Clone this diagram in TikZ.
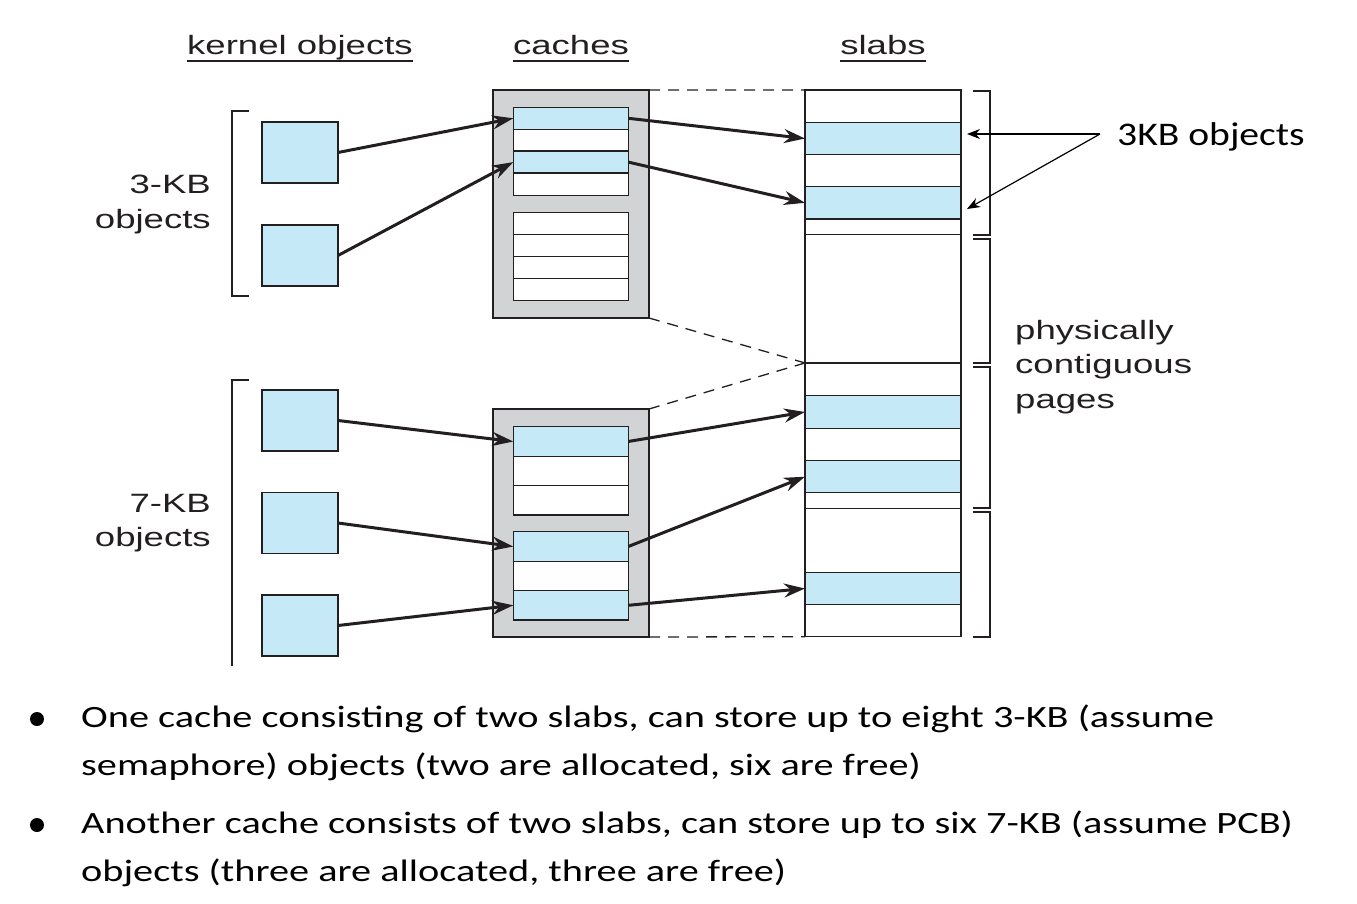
\documentclass[tikz,border=0pt]{standalone}
\usepackage{fontspec}
\setmainfont{Carlito}
\newfontfamily\hv[FakeStretch=1.38]{Liberation Sans}
\newfontfamily\cb[FakeStretch=1.3]{Carlito}
\newfontfamily\cbb[FakeStretch=1.2]{Carlito}
\usetikzlibrary{arrows.meta}
\definecolor{objblue}{HTML}{C6E9F8}
\definecolor{cachegray}{HTML}{D1D3D4}
\definecolor{ln}{HTML}{231F20}
\begin{document}
\begin{tikzpicture}[x=1pt,y=-1pt,
  obj/.style={draw=ln, line width=1.3pt, fill=objblue, minimum width=76pt, minimum height=61pt, inner sep=0pt, outer sep=0pt},
  cell/.style={draw=ln, line width=1.2pt, fill=white, minimum width=115pt, inner sep=0pt, outer sep=0pt},
  bcell/.style={cell, fill=objblue},
  scell/.style={draw=ln, line width=1.2pt, fill=white, minimum width=156pt, inner sep=0pt, outer sep=0pt},
  sbcell/.style={scell, fill=objblue},
  cachebox/.style={draw=ln, line width=1.6pt, fill=cachegray, minimum width=156pt, minimum height=228pt, inner sep=0pt, outer sep=0pt},
  arr/.style={-{Stealth[length=21pt,width=14pt]}, line width=3pt, draw=ln},
  thinarr/.style={-{Stealth[length=13pt,width=10pt]}, line width=1.2pt, draw=black},
  lbl/.style={font=\hv\fontsize{26.5}{34.5}\selectfont, text=ln, inner sep=0pt},
  uline/.style={line width=1.3pt, draw=ln},
  brk/.style={line width=1.2pt, draw=ln},
  dline/.style={line width=1.3pt, draw=ln, dash pattern=on 11pt off 8pt},
  btxt/.style={font=\cb\fontsize{31}{48}\selectfont, anchor=base west, inner sep=0pt},
  bdot/.style={circle, fill=black, inner sep=0pt, minimum size=14pt}
]
\useasboundingbox (0,0) rectangle (1357,904);

% headers
\node[lbl, anchor=base] (hk) at (300,55) {kernel objects};
\node[lbl, anchor=base] (hc) at (571,55) {caches};
\node[lbl, anchor=base] (hs) at (883,55) {slabs};
\draw[uline] ([yshift=-6pt]hk.base west) -- ([yshift=-6pt]hk.base east);
\draw[uline] ([yshift=-6pt]hc.base west) -- ([yshift=-6pt]hc.base east);
\draw[uline] ([yshift=-6pt]hs.base west) -- ([yshift=-6pt]hs.base east);

% kernel objects
\node[obj] (o1) at (300,152.5) {};
\node[obj] (o2) at (300,255.5) {};
\node[obj] (o3) at (300,420.5) {};
\node[obj] (o4) at (300,523) {};
\node[obj] (o5) at (300,625.5) {};

% side labels
\node[lbl, anchor=base east] (l3a) at (211,194) {3-KB};
\node[lbl, anchor=base east] (l3b) at (211,228.5) {objects};
\node[lbl, anchor=base east] (l7a) at (211,512) {7-KB};
\node[lbl, anchor=base east] (l7b) at (211,546.5) {objects};

% left brackets
\draw[brk] (249,111) -- (232,111) -- (232,296) -- (249,296);
\draw[brk] (249,380) -- (232,380) -- (232,666);

% caches
\node[cachebox] (cache1) at (571,204) {};
\node[cachebox] (cache2) at (571,523) {};

\node[bcell, minimum height=22pt] (c1a) at (570.8,118.3) {};
\node[cell,  minimum height=22pt] (c1b) at (570.8,140.2) {};
\node[bcell, minimum height=22pt] (c1c) at (570.8,162.1) {};
\node[cell,  minimum height=22pt] (c1d) at (570.8,184.2) {};
\node[cell,  minimum height=22pt] (c1e) at (570.8,223.3) {};
\node[cell,  minimum height=22pt] (c1f) at (570.8,245.3) {};
\node[cell,  minimum height=22pt] (c1g) at (570.8,267.3) {};
\node[cell,  minimum height=22pt] (c1h) at (570.8,289.5) {};

\node[bcell, minimum height=29.4pt] (c2a) at (570.8,441.5) {};
\node[cell,  minimum height=29.4pt] (c2b) at (570.8,470.8) {};
\node[cell,  minimum height=29.4pt] (c2c) at (570.8,500.3) {};
\node[bcell, minimum height=29.4pt] (c2d) at (570.8,546.5) {};
\node[cell,  minimum height=29.4pt] (c2e) at (570.8,576.0) {};
\node[bcell, minimum height=29.4pt] (c2f) at (570.8,605.3) {};

% slabs column
\node[scell,  minimum height=32.3pt] (s1) at (883,106.2) {};
\node[sbcell, minimum height=32.4pt] (s2) at (883,138.5) {};
\node[scell,  minimum height=32pt]   (s3) at (883,170.7) {};
\node[sbcell, minimum height=32.3pt] (s4) at (883,202.8) {};
\node[scell,  minimum height=15.7pt] (s5) at (883,226.8) {};
\node[scell,  minimum height=128.3pt] (s6) at (883,298.8) {};
\node[scell,  minimum height=32.7pt] (s7) at (883,379.3) {};
\node[sbcell, minimum height=32.6pt] (s8) at (883,412) {};
\node[scell,  minimum height=32.4pt] (s9) at (883,444.5) {};
\node[sbcell, minimum height=32pt]   (s10) at (883,476.7) {};
\node[scell,  minimum height=15.6pt] (s11) at (883,500.5) {};
\node[scell,  minimum height=64.4pt] (s12) at (883,540.5) {};
\node[sbcell, minimum height=31.6pt] (s13) at (883,588.5) {};
\node[scell,  minimum height=32.4pt] (s14) at (883,620.5) {};

% dashed connections
\draw[dline] (cache1.north east) -- (s1.north west);
\draw[dline] (cache1.south east) -- (s7.north west);
\draw[dline] (cache2.north east) -- (s7.north west);
\draw[dline] (cache2.south east) -- (s14.south west);

% right brackets
\draw[brk] (973,91) -- (990,91) -- (990,235) -- (973,235);
\draw[brk] (973,239) -- (990,239) -- (990,363) -- (973,363);
\draw[brk] (973,367) -- (990,367) -- (990,508) -- (973,508);
\draw[brk] (973,512) -- (990,512) -- (990,637) -- (973,637);

% arrows
\draw[arr] (o1.east) -- (c1a.west);
\draw[arr] (o2.east) -- (c1c.west);
\draw[arr] (c1a.east) -- (s2.west);
\draw[arr] (c1c.east) -- (s4.west);
\draw[arr] (o3.east) -- (c2a.west);
\draw[arr] (o4.east) -- (c2d.west);
\draw[arr] (o5.east) -- (c2f.west);
\draw[arr] (c2a.east) -- (s8.west);
\draw[arr] (c2d.east) -- (s10.west);
\draw[arr] (c2f.east) -- (s13.west);

% physically contiguous pages
\node[lbl, anchor=base west] (p1) at (1015,339) {physically};
\node[lbl, anchor=base west] (p2) at (1015,373.5) {contiguous};
\node[lbl, anchor=base west] (p3) at (1015,408) {pages};

% 3KB objects callout
\node[font=\cbb\fontsize{33}{40}\selectfont, anchor=base west, inner sep=0pt] (k3) at (1117,146) {3KB objects};
\coordinate (k3src) at (1100,134);
\draw[thinarr] (k3src) -- (967,134);
\draw[thinarr] (k3src) -- (967,209);

% bullets
\node[bdot] (b1dot) at (37,719) {};
\node[btxt] (b1a) at (81,727) {One cache consisting of two slabs, can store up to eight 3-KB (assume};
\node[btxt] (b1b) at (81,775) {semaphore) objects (two are allocated, six are free)};
\node[bdot] (b2dot) at (37,825) {};
\node[btxt] (b2a) at (81,833) {Another cache consists of two slabs, can store up to six 7-KB (assume PCB)};
\node[btxt] (b2b) at (81,881) {objects (three are allocated, three are free)};
\end{tikzpicture}
\end{document}
